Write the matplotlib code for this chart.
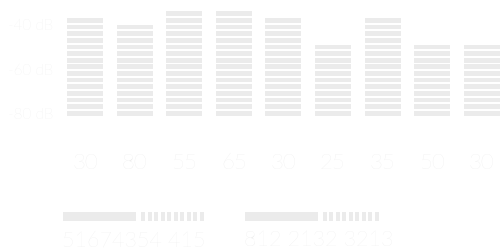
import numpy as np
import matplotlib
matplotlib.use("Agg")
import matplotlib.pyplot as plt
from matplotlib.patches import Rectangle

# bar levels in dB (top of the highest lit segment)
levels = [-36, -39, -33, -33, -36, -48, -36, -48, -48]
# numbers printed under each bar
bar_labels = ["30", "80", "55", "65", "30", "25", "35", "50", "30"]
yticks = [-40, -60, -80]
ytick_labels = ["-40 dB", "-60 dB", "-80 dB"]
# little legend blocks at the bottom
legend_codes = ["51674354 415", "812 2132 3213"]
legend_ticks = [10, 9]

base = -81.0      # floor of the meter
step = 3.0        # dB per segment
seg_h = 2.12      # drawn height of one segment

seg_col = "#ebebeb"
txt_col = "#e9e9e9"
font = ["Lato", "DejaVu Sans"]

W, H = 501, 250
fig = plt.figure(figsize=(W / 100, H / 100), dpi=100)
fig.patch.set_facecolor("white")

# main meter axes
ax = fig.add_axes([60.2 / W, (H - 115.7) / H, 441.4 / W, 115.7 / H])
ax.set_xlim(-0.5, 8.4)
ax.set_ylim(base, base + 115.7 / 2.215)
x = np.arange(len(levels))
for i, lv in enumerate(levels):
    n = int(round((lv - base) / step))
    for k in range(n):
        ax.bar(x[i], seg_h, bottom=base + k * step, width=0.726,
               color=seg_col, linewidth=0)

ax.set_xticks(x, bar_labels)
ax.set_yticks(yticks, ytick_labels)
ax.tick_params(length=0)
ax.tick_params(axis="x", pad=27, labelsize=16, labelcolor=txt_col)
ax.tick_params(axis="y", pad=5, labelsize=11, labelcolor=txt_col)
for lab in ax.get_xticklabels() + ax.get_yticklabels():
    lab.set_family(font)
    lab.set_fontweight("light")
for s in ax.spines.values():
    s.set_visible(False)
ax.set_facecolor("none")

# legend strip at the bottom, in pixel units
lg = fig.add_axes([0, 0, 1, 1], zorder=-1)
lg.set_xlim(0, W)
lg.set_ylim(H, 0)
lg.axis("off")
starts = [63.3, 245.0]
for x0, code, nt in zip(starts, legend_codes, legend_ticks):
    lg.add_patch(Rectangle((x0, 212.3), 73, 8.8, color=seg_col, lw=0))
    for k in range(nt):
        lg.add_patch(Rectangle((x0 + 78 + k * 6.5, 212.3), 4, 8.8,
                               color=seg_col, lw=0))
    lg.text(x0 - 1, 230.5, code, fontsize=15.5, color=txt_col, family=font,
            fontweight="light", ha="left", va="top")

fig.savefig("out.png", dpi=100, facecolor="white")
